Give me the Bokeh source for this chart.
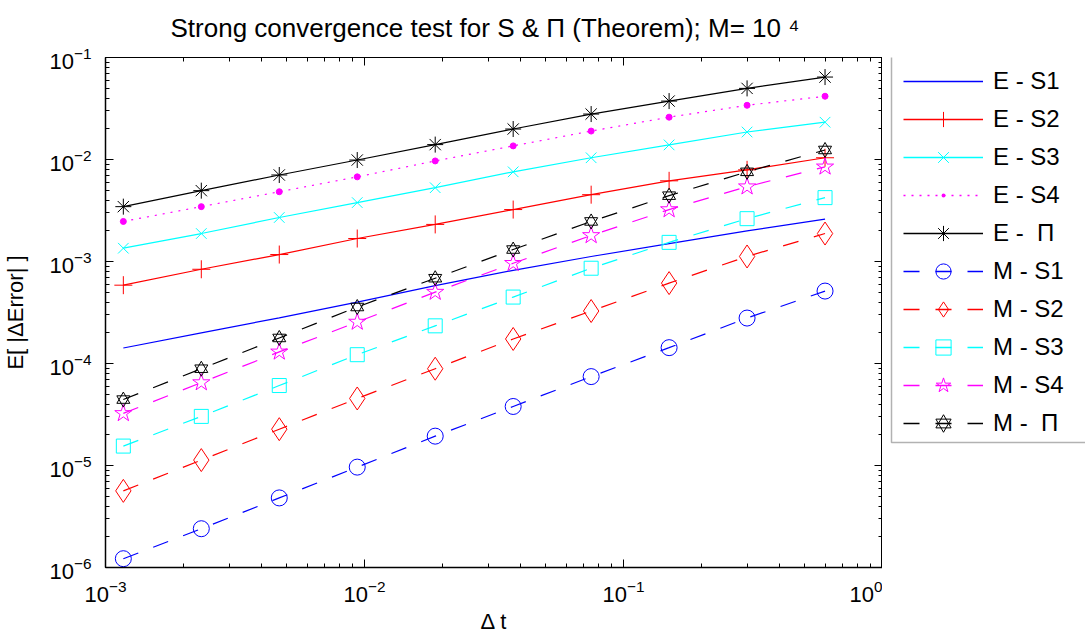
from bokeh.plotting import figure
from bokeh.layouts import row
from bokeh.models import (Range1d, FixedTicker, LogAxis, Legend, LegendItem, Title,
                          CustomJSTickFormatter, LogTickFormatter, BoxAnnotation)
from bokeh.embed import file_html
from bokeh.resources import INLINE

# ---------------- data ----------------
dt = [0.001171875, 0.00234375, 0.0046875, 0.009375, 0.01875,
      0.0375, 0.075, 0.15, 0.3, 0.6]

e_s1 = [1.42e-4, 2.0e-4, 2.8e-4, 4.0e-4, 5.8e-4, 8.2e-4, 1.12e-3, 1.5e-3, 2.0e-3, 2.6e-3]
e_s2 = [5.86e-4, 8.39e-4, 1.17e-3, 1.68e-3, 2.31e-3, 3.23e-3, 4.52e-3, 6.18e-3, 7.92e-3, 1.04e-2]
e_s3 = [1.35e-3, 1.88e-3, 2.70e-3, 3.78e-3, 5.29e-3, 7.57e-3, 1.04e-2, 1.39e-2, 1.86e-2, 2.32e-2]
e_s4 = [2.47e-3, 3.45e-3, 4.83e-3, 6.76e-3, 9.68e-3, 1.36e-2, 1.90e-2, 2.60e-2, 3.40e-2, 4.17e-2]
e_pi = [3.45e-3, 4.95e-3, 7.05e-3, 9.88e-3, 1.40e-2, 1.99e-2, 2.79e-2, 3.74e-2, 4.98e-2, 6.43e-2]

m_s1 = [1.22e-6, 2.40e-6, 4.81e-6, 9.64e-6, 1.94e-5, 3.79e-5, 7.44e-5, 1.43e-4, 2.79e-4, 5.13e-4]
m_s2 = [5.64e-6, 1.13e-5, 2.27e-5, 4.54e-5, 8.89e-5, 1.74e-4, 3.27e-4, 6.14e-4, 1.12e-3, 1.88e-3]
m_s3 = [1.55e-5, 3.03e-5, 6.08e-5, 1.22e-4, 2.34e-4, 4.48e-4, 8.59e-4, 1.54e-3, 2.63e-3, 4.23e-3]
m_s4 = [3.24e-5, 6.50e-5, 1.30e-4, 2.55e-4, 5.01e-4, 9.60e-4, 1.80e-3, 3.23e-3, 5.41e-3, 8.47e-3]
m_pi = [4.43e-5, 8.89e-5, 1.78e-4, 3.58e-4, 6.86e-4, 1.31e-3, 2.47e-3, 4.42e-3, 7.57e-3, 1.24e-2]

legend_labels = ["E - S1", "E - S2", "E - S3", "E - S4", "E -  \u03a0",
                 "M - S1", "M - S2", "M - S3", "M - S4", "M -  \u03a0"]

x_ticks = [1e-3, 1e-2, 1e-1, 1e0]
y_ticks = [1e-6, 1e-5, 1e-4, 1e-3, 1e-2, 1e-1]

title_text = "Strong convergence test for S &  \u03a0 (Theorem); M= 10 \u2074"
x_label = "\u0394 t"
y_label = "E[ |\u0394Error| ]"

# ---------------- layout ----------------
W, H = 1085, 636
L, R, T, B = 105, 882, 57, 569
FONT = "Liberation Sans"

p = figure(width=R, height=H, x_axis_type="log", y_axis_type="log",
           x_range=Range1d(1e-3, 1.0), y_range=Range1d(1e-6, 1e-1),
           output_backend="svg", toolbar_location=None, title_location=None,
           min_border_left=L, min_border_right=0,
           min_border_top=T, min_border_bottom=H - B)
p.grid.visible = False
p.background_fill_color = "white"
p.border_fill_color = "white"
p.outline_line_color = "black"
p.outline_line_width = 1

x_minor = [m * 10.0 ** e for e in range(-3, 0) for m in range(2, 10)]
y_minor = [m * 10.0 ** e for e in range(-6, -1) for m in range(2, 10)]


def style_axis(ax, ticks, minor, lw, labels):
    ax.ticker = FixedTicker(ticks=ticks, minor_ticks=minor)
    ax.major_tick_in = 8
    ax.major_tick_out = 0
    ax.minor_tick_in = 4
    ax.minor_tick_out = 0
    ax.major_tick_line_color = "black"
    ax.minor_tick_line_color = "black"
    ax.axis_line_color = "black"
    ax.axis_line_width = lw
    if labels:
        ax.formatter = LogTickFormatter()
        ax.major_label_text_font = FONT
        ax.major_label_text_font_size = "22px"
        ax.major_label_text_color = "black"


style_axis(p.xaxis[0], x_ticks, x_minor, 1.5, True)
style_axis(p.yaxis[0], y_ticks, y_minor, 1.5, True)
p.xaxis.major_label_standoff = 12
p.yaxis.major_label_standoff = 14

for ax, txt, st in ((p.xaxis[0], x_label, 4), (p.yaxis[0], y_label, 18)):
    ax.axis_label = txt
    ax.axis_label_text_font = FONT
    ax.axis_label_text_font_size = "22px"
    ax.axis_label_text_font_style = "normal"
    ax.axis_label_text_color = "black"
    ax.axis_label_standoff = st
p.xaxis.axis_label_text_align = "right"

top_ax = LogAxis()
style_axis(top_ax, x_ticks, x_minor, 1, False)
top_ax.formatter = CustomJSTickFormatter(code="return ' '")
top_ax.major_label_text_font_size = "1px"
top_ax.major_label_standoff = 11
p.add_layout(top_ax, "above")

right_ax = LogAxis()
style_axis(right_ax, y_ticks, y_minor, 1, False)
right_ax.formatter = CustomJSTickFormatter(code="return ''")
right_ax.major_label_text_font_size = "0px"
right_ax.major_label_standoff = 0
p.add_layout(right_ax, "right")

p.add_layout(Title(text=title_text, align="left", offset=65, standoff=0,
                   text_font=FONT, text_font_size="26px", text_font_style="normal",
                   text_color="black"), "above")

# ---------------- series ----------------
BLUE, RED, CYAN, MAG, BLK = "#0000FF", "#FF0000", "#00FFFF", "#FF00FF", "#000000"
LW = 1.2
DASH = "16 16"

styles = [
    (e_s1, BLUE, "solid", []),
    (e_s2, RED, "solid", [("cross", 18, False)]),
    (e_s3, CYAN, "solid", [("x", 15, False)]),
    (e_s4, MAG, "2 6", [("circle", 6, True)]),
    (e_pi, BLK, "solid", [("asterisk", 16, False)]),
    (m_s1, BLUE, DASH, [("circle", 16, False)]),
    (m_s2, RED, DASH, [("diamond", 23, False)]),
    (m_s3, CYAN, DASH, [("square", 14, False)]),
    (m_s4, MAG, DASH, [("star", 18, False)]),
    (m_pi, BLK, DASH, [("triangle", 13, False), ("inverted_triangle", 13, False)]),
]

for y, color, dash, markers in styles:
    p.line(dt, y, line_color=color, line_width=LW, line_dash=dash)
    for mk, sz, filled in markers:
        p.scatter(dt, y, marker=mk, size=sz, line_color=color, line_width=1,
                  fill_color=color if filled else None)

# ---------------- legend panel (separate figure to the right) ----------------
# Its frame is aligned with the main frame (rows T..B); the series are drawn there
# outside the visible ranges so that only their legend samples show.
LW_PANEL = W - R
pl = figure(width=LW_PANEL, height=H, x_range=Range1d(-2, -1), y_range=Range1d(-2, -1),
            x_axis_location=None, y_axis_location=None, toolbar_location=None,
            title_location=None, output_backend="svg",
            min_border_left=0, min_border_right=0, min_border_top=T, min_border_bottom=H - B)
pl.grid.visible = False
pl.outline_line_color = None
pl.background_fill_color = "white"
pl.border_fill_color = "white"

LEG_TOP, LEG_BOTTOM, LEG_LEFT = 57.5, 444, 891
pl.add_layout(BoxAnnotation(left=LEG_LEFT - R, right=LW_PANEL + 40,
                            top=B - LEG_TOP, bottom=B - LEG_BOTTOM,
                            left_units="screen", right_units="screen",
                            top_units="screen", bottom_units="screen",
                            fill_color="white", fill_alpha=1.0,
                            line_color="black", line_width=1.5))

items = []
for lbl, (y, color, dash, markers) in zip(legend_labels, styles):
    rs = [pl.line(dt, y, line_color=color, line_alpha=1.0, line_width=1.4, line_dash=dash)]
    for mk, sz, filled in markers:
        if mk == "circle" and filled:
            mk = "dot"
        rs.append(pl.scatter(dt, y, marker=mk, size=sz, line_color=color, line_width=1,
                             fill_color=color if filled else None))
    items.append(LegendItem(label=lbl, renderers=rs))

legend = Legend(items=items, location=(907 - R - 4, B - LEG_BOTTOM + 0.5),
                glyph_width=80, glyph_height=38, label_height=38, label_width=120,
                spacing=0, padding=4, label_standoff=10, margin=0,
                label_text_font=FONT, label_text_font_size="24px", label_text_color="black",
                border_line_color=None, background_fill_alpha=0.0)
pl.add_layout(legend)

layout = row(p, pl, spacing=0)
open("out.html", "w").write(file_html(layout, INLINE))
